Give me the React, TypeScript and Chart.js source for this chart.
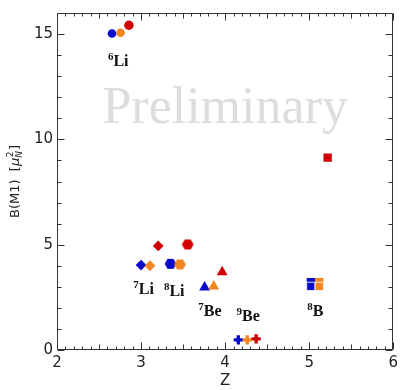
import React, { useEffect, useRef } from 'react';
import { Chart, registerables } from 'chart.js';

Chart.register(...registerables);

// Colour order in every group: blue, orange, red
const COLORS = ['#0a0acd', '#f3861f', '#d20000'];

// 6Li (circles)
const li6X = [2.654, 2.756, 2.855];
const li6Y = [15.03, 15.06, 15.42];
// 7Li (diamonds)
const li7X = [3.0, 3.106, 3.204];
const li7Y = [4.03, 4.0, 4.94];
// 8Li (hexagons)
const li8X = [3.35, 3.464, 3.555];
const li8Y = [4.09, 4.06, 5.01];
// 7Be (triangles)
const be7X = [3.756, 3.865, 3.965];
const be7Y = [2.98, 3.02, 3.7];
// 9Be (crosses)
const be9X = [4.157, 4.263, 4.369];
const be9Y = [0.48, 0.48, 0.53];
// 8B (squares); blue & orange have a second, overlapping value
const b8X = [5.02, 5.12, 5.22];
const b8Y = [3.02, 3.02, 9.13];
const b8UpperX = [5.02, 5.12];
const b8UpperY = [3.22, 3.22];

// Nucleus labels: superscript, symbol, anchor (centre x, baseline y) in data units
const labelMass = ['6', '7', '8', '7', '9', '8'];
const labelSymbol = ['Li', 'Li', 'Li', 'Be', 'Be', 'B'];
const labelX = [2.728, 3.03, 3.395, 3.82, 4.275, 5.072];
const labelY = [13.5, 2.65, 2.56, 1.62, 1.385, 1.62];

const xTicks = [2, 3, 4, 5, 6];
const yTicks = [0, 5, 10, 15];

function pts(xs: number[], ys: number[]) {
  return xs.map((x, i) => ({ x, y: ys[i] }));
}

function hexagon(color: string): HTMLCanvasElement {
  const c = document.createElement('canvas');
  c.width = 13;
  c.height = 12;
  const g = c.getContext('2d')!;
  const R = 5.9;
  const cx = 6.5, cy = 6;
  g.beginPath();
  for (let k = 0; k < 6; k++) {
    const a = (Math.PI / 3) * k;
    const px = cx + R * Math.cos(a);
    const py = cy + R * Math.sin(a);
    if (k === 0) g.moveTo(px, py);
    else g.lineTo(px, py);
  }
  g.closePath();
  g.fillStyle = color;
  g.fill();
  return c;
}

const framePlugin = {
  id: 'frameTicks',
  beforeDatasetsDraw(chart: any) {
    const { ctx, chartArea: a } = chart;
    ctx.save();
    ctx.fillStyle = '#dedddb';
    ctx.font = '52px "Liberation Serif"';
    ctx.textAlign = 'left';
    ctx.textBaseline = 'alphabetic';
    ctx.fillText('Preliminary', a.left + (a.right - a.left) * 0.135, a.top + (a.bottom - a.top) * 0.325);
    ctx.restore();
  },
  afterDatasetsDraw(chart: any) {
    const { ctx, chartArea: a, scales } = chart;
    const xs = scales.x, ys = scales.y;
    ctx.save();
    ctx.strokeStyle = '#333';
    ctx.lineWidth = 1;
    const L = Math.round(a.left) + 0.5, R = Math.round(a.right) - 0.5;
    const T = Math.round(a.top) + 0.5, B = Math.round(a.bottom) - 0.5;
    ctx.beginPath();
    ctx.rect(L, T, R - L, B - T);
    ctx.stroke();
    ctx.beginPath();
    for (let i = 20; i <= 60; i++) {
      const v = i / 10;
      const px = Math.round(xs.getPixelForValue(v)) + 0.5;
      const len = i % 10 === 0 ? 7 : i % 5 === 0 ? 5 : 3;
      ctx.moveTo(px, B);
      ctx.lineTo(px, B - len);
      ctx.moveTo(px, T);
      ctx.lineTo(px, T + len);
    }
    for (let v = 0; v <= 16; v++) {
      const py = Math.round(ys.getPixelForValue(v)) + 0.5;
      const len = v % 5 === 0 ? 7 : 4;
      ctx.moveTo(L, py);
      ctx.lineTo(L + len, py);
      ctx.moveTo(R, py);
      ctx.lineTo(R - len, py);
    }
    ctx.stroke();

    // nucleus labels
    ctx.fillStyle = '#111';
    ctx.textBaseline = 'alphabetic';
    ctx.textAlign = 'left';
    for (let i = 0; i < labelSymbol.length; i++) {
      const supFont = 'bold 11px "Liberation Serif"';
      const mainFont = 'bold 16px "Liberation Serif"';
      ctx.font = supFont;
      const wS = ctx.measureText(labelMass[i]).width;
      ctx.font = mainFont;
      const wM = ctx.measureText(labelSymbol[i]).width;
      const cx = xs.getPixelForValue(labelX[i]);
      const by = ys.getPixelForValue(labelY[i]);
      const x0 = cx - (wS + wM) / 2;
      ctx.font = supFont;
      ctx.fillText(labelMass[i], x0, by - 6);
      ctx.font = mainFont;
      ctx.fillText(labelSymbol[i], x0 + wS, by);
    }

    // y-axis title with sub/superscript
    const parts: any[] = [
      { t: 'B(M1)  [', f: '13px "DejaVu Sans"', dy: 0 },
      { t: 'μ', f: 'italic 13px "DejaVu Sans"', dy: 0 },
    ];
    ctx.font = parts[0].f;
    const w0 = ctx.measureText(parts[0].t).width;
    ctx.font = parts[1].f;
    const w1 = ctx.measureText('μ').width;
    ctx.font = 'italic 9px "DejaVu Sans"';
    const wN = ctx.measureText('N').width;
    ctx.font = '9px "DejaVu Sans"';
    const w2 = ctx.measureText('2').width;
    ctx.font = '13px "DejaVu Sans"';
    const wB = ctx.measureText(']').width;
    const total = w0 + w1 + Math.max(wN, w2) + 1 + wB;
    ctx.save();
    ctx.translate(14, (a.top + a.bottom) / 2 + 0);
    ctx.rotate(-Math.PI / 2);
    ctx.fillStyle = '#222';
    let x = -total / 2;
    const base = 4.5;
    ctx.font = parts[0].f;
    ctx.fillText(parts[0].t, x, base);
    x += w0;
    ctx.font = parts[1].f;
    ctx.fillText('μ', x, base);
    x += w1;
    ctx.font = 'italic 9px "DejaVu Sans"';
    ctx.fillText('N', x, base + 3);
    ctx.font = '9px "DejaVu Sans"';
    ctx.fillText('2', x + 0.5, base - 6);
    x += Math.max(wN, w2) + 1;
    ctx.font = '13px "DejaVu Sans"';
    ctx.fillText(']', x, base);
    ctx.restore();
    ctx.restore();
  },
};

export default function App() {
  const ref = useRef<HTMLCanvasElement>(null);
  useEffect(() => {
    if (!ref.current) return;
    const hex = COLORS.map((c) => hexagon(c));
    const chart = new Chart(ref.current, {
      type: 'scatter',
      data: {
        datasets: [
          {
            label: '6Li',
            data: pts(li6X, li6Y),
            pointStyle: 'circle',
            pointRadius: [4.3, 4.3, 4.7],
            backgroundColor: COLORS,
            borderWidth: 0,
          },
          {
            label: '7Li',
            data: pts(li7X, li7Y),
            pointStyle: 'rectRot',
            pointRadius: 5.4,
            backgroundColor: COLORS,
            borderWidth: 0,
          },
          {
            label: '8Li',
            data: pts(li8X, li8Y),
            pointStyle: hex as any,
            backgroundColor: COLORS,
            borderWidth: 0,
          },
          {
            label: '7Be',
            data: pts(be7X, be7Y),
            pointStyle: 'triangle',
            pointRadius: 6.3,
            backgroundColor: COLORS,
            borderWidth: 0,
          },
          {
            label: '9Be',
            data: pts(be9X, be9Y),
            pointStyle: 'cross',
            pointRadius: 4.6,
            borderColor: COLORS,
            backgroundColor: COLORS,
            borderWidth: 3.4,
          },
          {
            label: '8B',
            data: pts(b8X, b8Y),
            pointStyle: 'rect',
            pointRadius: 5.9,
            backgroundColor: COLORS,
            borderColor: ['rgba(255,255,255,0.85)', 'rgba(255,255,255,0.85)', COLORS[2]],
            borderWidth: [1, 1, 0],
          },
          {
            label: '8B upper',
            data: pts(b8UpperX, b8UpperY),
            pointStyle: 'rect',
            pointRadius: 5.9,
            backgroundColor: COLORS.slice(0, 2),
            borderWidth: 0,
          },
        ],
      },
      options: {
        animation: false,
        responsive: false,
        events: [],
        layout: { padding: { top: 9, right: 6, left: 0, bottom: 0 } },
        plugins: {
          legend: { display: false },
          tooltip: { enabled: false },
        },
        scales: {
          x: {
            type: 'linear',
            min: 2,
            max: 6,
            grid: { display: false, drawTicks: false },
            border: { display: false },
            afterFit: (s: any) => {
              s.height = 40;
            },
            afterBuildTicks: (s: any) => {
              s.ticks = xTicks.map((v) => ({ value: v }));
            },
            ticks: {
              padding: 4,
              color: '#222',
              font: { family: 'DejaVu Sans', size: 15 },
              maxRotation: 0,
            },
            title: {
              display: true,
              text: 'Z',
              color: '#222',
              font: { family: 'DejaVu Sans', size: 15 },
              padding: { top: 0, bottom: 0 },
            },
          },
          y: {
            type: 'linear',
            min: 0,
            max: 16,
            grid: { display: false, drawTicks: false },
            border: { display: false },
            afterFit: (s: any) => {
              s.width = 57;
            },
            afterBuildTicks: (s: any) => {
              s.ticks = yTicks.map((v) => ({ value: v }));
            },
            ticks: {
              padding: 4,
              color: '#222',
              font: { family: 'DejaVu Sans', size: 15 },
            },
          },
        },
      },
      plugins: [framePlugin],
    });
    return () => chart.destroy();
  }, []);
  return (
    <div style={{ position: 'absolute', left: 0, top: 0, width: 402, height: 390, background: '#fff' }}>
      <canvas ref={ref} width={402} height={390} style={{ width: 402, height: 390 }} />
    </div>
  );
}
